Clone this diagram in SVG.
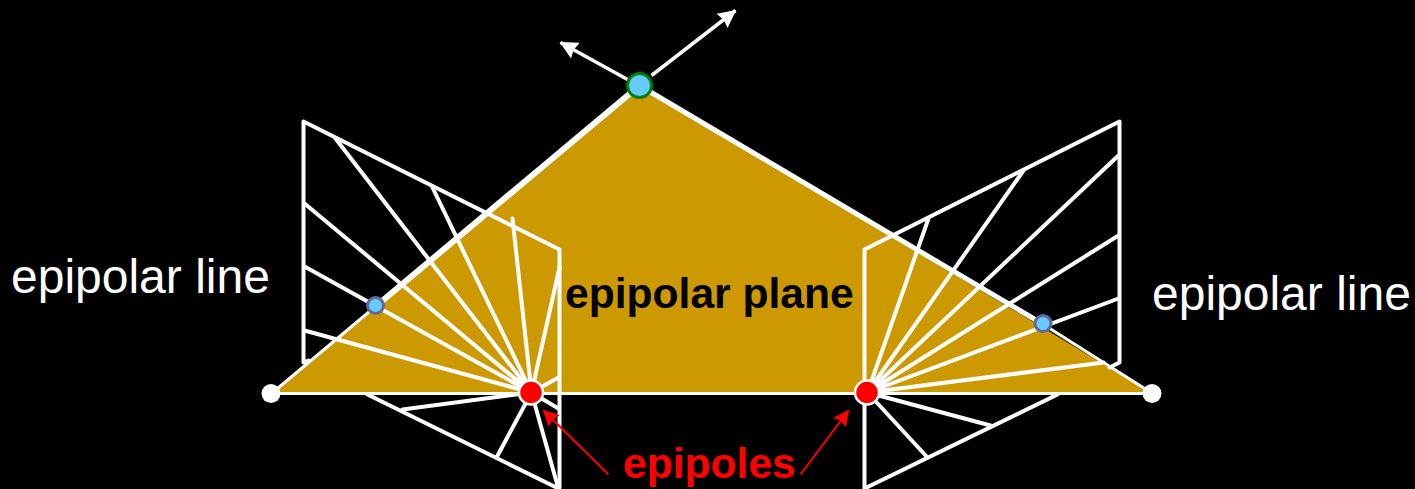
<svg xmlns="http://www.w3.org/2000/svg" width="1415" height="489" viewBox="0 0 1415 489">
<style>
text{font-family:"Liberation Sans",Arial,sans-serif}
.w{stroke:#fff;stroke-width:4;fill:none;stroke-linejoin:round;stroke-linecap:round}
.t{stroke:#fff;stroke-width:6;fill:none;stroke-linecap:butt}
.a{stroke:#fff;stroke-width:3.5;fill:none;marker-end:url(#wa)}
.r{stroke:#f00;stroke-width:2;fill:none;marker-end:url(#ra)}
.ep{fill:#f00;stroke:#fff;stroke-width:2.5}
.pt{fill:#6cf;stroke:#669;stroke-width:3}
.lbl{font-size:48px;fill:#fff}
</style>
<defs>
<marker id="wa" markerUnits="userSpaceOnUse" markerWidth="20" markerHeight="20" refX="17" refY="10" orient="auto"><path d="M0 1L18 10L0 19L2 10Z" fill="#fff"/></marker>
<marker id="ra" markerUnits="userSpaceOnUse" markerWidth="18" markerHeight="18" refX="15" refY="9" orient="auto"><path d="M0 1L16 9L0 17L2 9Z" fill="#f00"/></marker>
</defs>
<rect width="1415" height="489" fill="#000"/>
<g id="epipolar-plane"><path d="M271.500 393.500L639.500 85.500L1152.500 393.500Z" fill="#c90"/></g>
<g id="connectors" transform="translate(0.500 0.500)">
<path class="w" d="M367 394L558 488M559 487V249L303 121V362L308 360"/>
<path class="w" d="M1057 394L864 488V249L1119 121V362L1109 367"/>
<path class="w" d="M531 392L335 138M531 392L432 187M531 392L512 218M531 392L559 267M531 392L304 203M531 392L304 266M531 392L304 330M531 392L402 409M531 392L496 457M531 392L557 485M531 392L558 377M531 392L558 408"/>
<path class="w" d="M867 392L928 218M867 392L1023 170M867 392L1118 155M867 392L1118 235M867 392L1118 298M867 392L1103 362M867 392L990 425M867 392L927 457"/>
<path class="t" d="M639 85L375 306"/>
<path class="t" style="stroke-width:5" d="M639 85L1043 324"/>
<path class="w" style="stroke-width:3" d="M271 393L375 306M1043 324L1152 393M271 393H1152"/>
<path class="a" d="M651 75L735 10"/>
<path class="a" d="M627 79L560 42"/>
<path class="r" d="M608 474L543 410"/>
<path class="r" d="M800 474L848 410"/>
</g>
<g id="focal-left"><circle cx="271" cy="393.500" r="9.500" fill="#fff"/></g>
<g id="focal-right"><circle cx="1152" cy="393.500" r="9.500" fill="#fff"/></g>
<g id="epipole-left"><circle class="ep" cx="531" cy="392.500" r="12"/></g>
<g id="epipole-right"><circle class="ep" cx="867" cy="392.500" r="12"/></g>
<g id="point-left"><circle class="pt" cx="375.500" cy="305.500" r="8"/></g>
<g id="point-right"><circle class="pt" cx="1043" cy="323.500" r="8"/></g>
<g id="apex"><circle cx="639.500" cy="85.500" r="12" fill="#6cf" stroke="#008000" stroke-width="3"/></g>
<g id="labels">
<text class="lbl" x="11" y="293">epipolar line</text>
<text class="lbl" x="1152" y="310">epipolar line</text>
<text x="565" y="308" font-size="42.600" font-weight="700" fill="#000">epipolar plane</text>
<text x="623" y="478" font-size="42.600" font-weight="700" fill="#f00">epipoles</text>
</g>
</svg>
